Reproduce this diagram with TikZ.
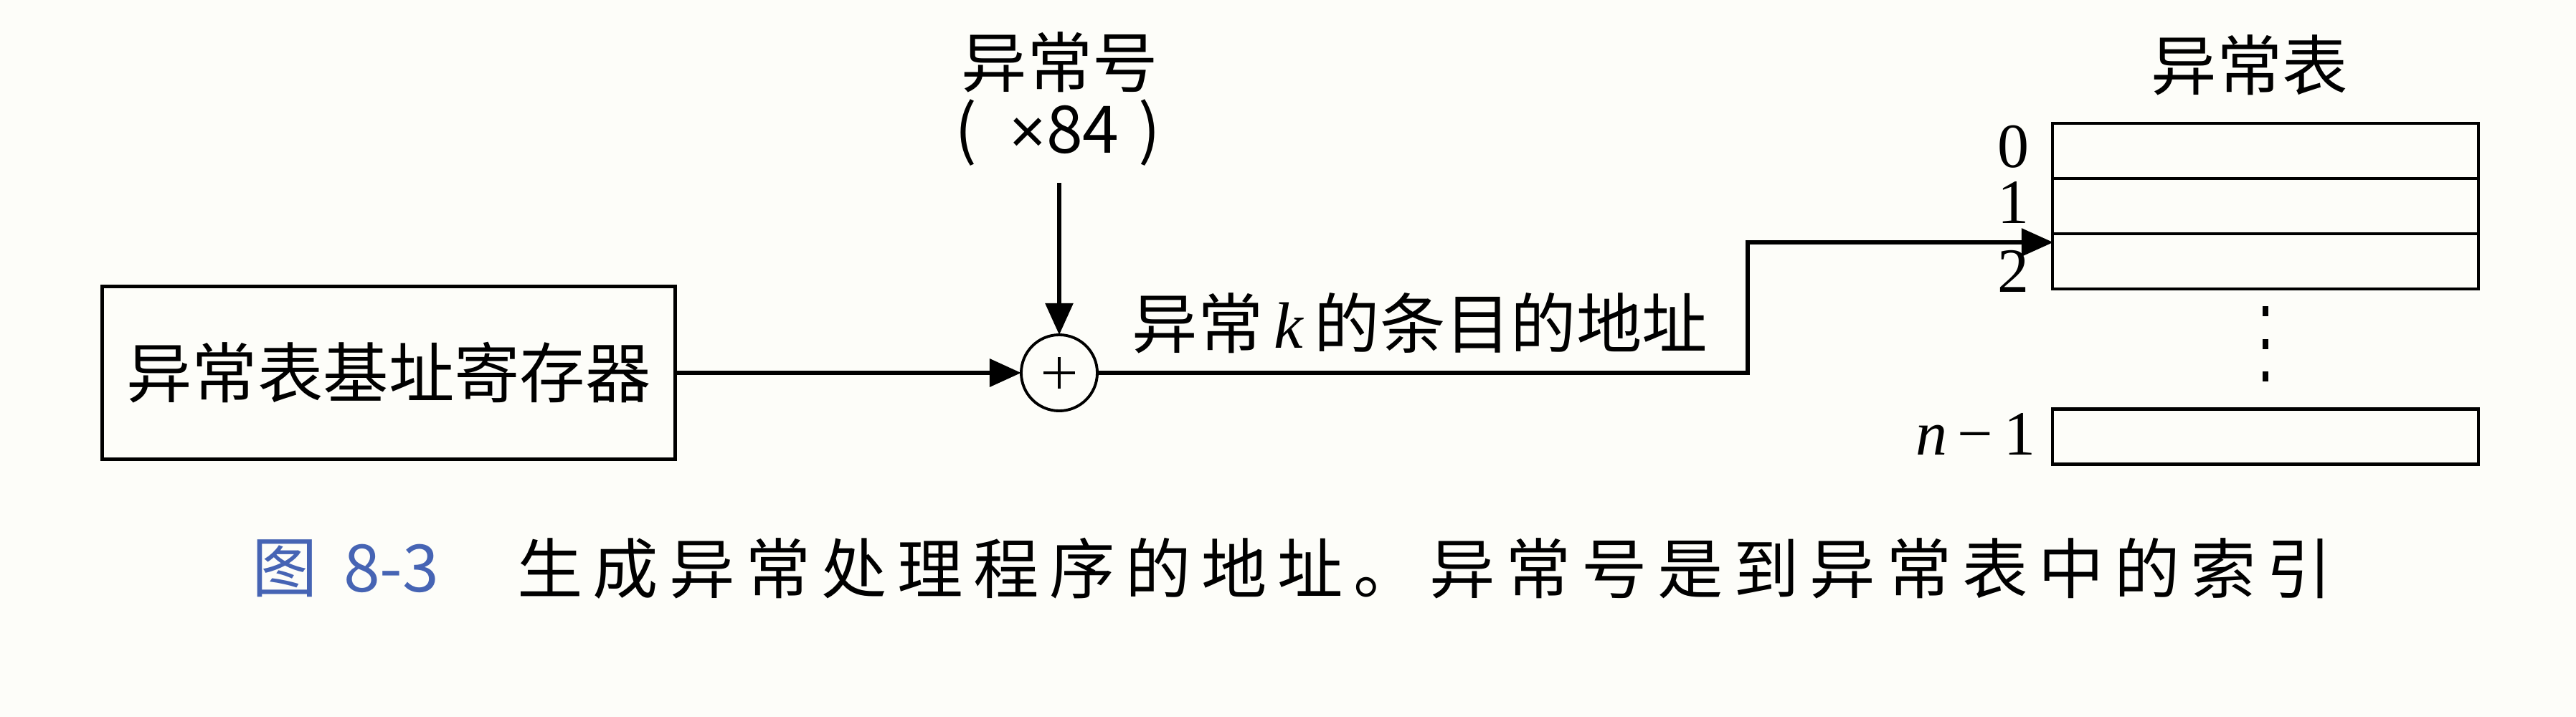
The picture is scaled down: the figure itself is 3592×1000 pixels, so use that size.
\documentclass[tikz,border=0pt]{standalone}
\usepackage{fontspec}
\setmainfont{Liberation Serif}
\newfontfamily\cjk{Noto Sans CJK SC}
\newfontfamily\cjkcap[LetterSpace=16]{Noto Sans CJK SC}
\newfontfamily\lsans{Liberation Sans}
\usetikzlibrary{arrows.meta}
\definecolor{paper}{RGB}{253,253,249}
\definecolor{capblue}{RGB}{70,100,180}
\begin{document}
\begin{tikzpicture}[x=0.01cm,y=-0.01cm,
  every node/.style={inner sep=0pt, outer sep=0pt},
  big/.style={font=\fontsize{26}{30}\selectfont\cjk},
  ser/.style={font=\fontsize{25}{30}\selectfont\rmfamily},
  captxt/.style={font=\fontsize{26}{30}\selectfont\cjkcap},
  regbox/.style={draw, line width=1.4pt, minimum width=7.98cm, minimum height=2.41cm},
  tip/.style={-{Triangle[length=0.44cm,width=0.38cm]}},
  wire/.style={line width=1.6pt},
  cell/.style={draw, line width=1.2pt, minimum width=5.93cm, minimum height=0.77cm},
]
\fill[paper] (0,0) rectangle (3592,1000);
\useasboundingbox (0,0) rectangle (3592,1000);

% register box
\node[regbox, big] (reg) at (542,520) {异常表基址寄存器};

% adder
\node[draw, circle, line width=1.1pt, minimum size=1.06cm] (add) at (1477,520) {};
\draw[line width=1.1pt] (add.center) +(-22,0) -- +(22,0)
                        (add.center) +(0,-22) -- +(0,22);

% exception number
\node[big] (num) at (1478,87) {异常号};
\node[big] (mul) at (1475,185) {(\hspace{0.5em}{\lsans\fontsize{25}{30}\selectfont ×}84\hspace{0.3em})};
\coordinate (vtop) at (1477,255);
\draw[wire, tip] (vtop) -- (add.north);

% base -> adder
\draw[line width=1.9pt, tip] (reg.east) -- (add.west);

% table
\node[big] (ttl) at (3137,91) {异常表};
\node[cell] (c0) at (3159,210.5) {};
\node[cell] (c1) at (3159,287.5) {};
\node[cell] (c2) at (3159,364.5) {};
\node[cell] (cn) at (3159,609) {};
\foreach \yy in {434,480,525} \fill (3155,\yy-7) rectangle (3163,\yy+7);

\node[ser] (l0) at (2807,205) {0};
\node[ser] (l1) at (2807,282) {1};
\node[ser] (l2) at (2807,378) {2};
\node[ser, anchor=east] (ln) at (2838,605) {\textit{n}\,−\,1};

% adder -> table
\coordinate (bend) at (2437,338);
\coordinate (hit) at (2863,338);
\draw[wire, tip] (add.east) -| (bend) -- (hit);
\node[big] (lab) at (1980,451) {异常\,{\rmfamily\itshape k}\,的条目的地址};

% caption
\node[big, text=capblue, anchor=west] (fig) at (351,793) {图};
\node[big, text=capblue, anchor=west] (fignum) at (479,793) {8-3};
\node[captxt, anchor=west] (captext) at (721,793) {生成异常处理程序的地址。异常号是到异常表中的索引};
\end{tikzpicture}
\end{document}
